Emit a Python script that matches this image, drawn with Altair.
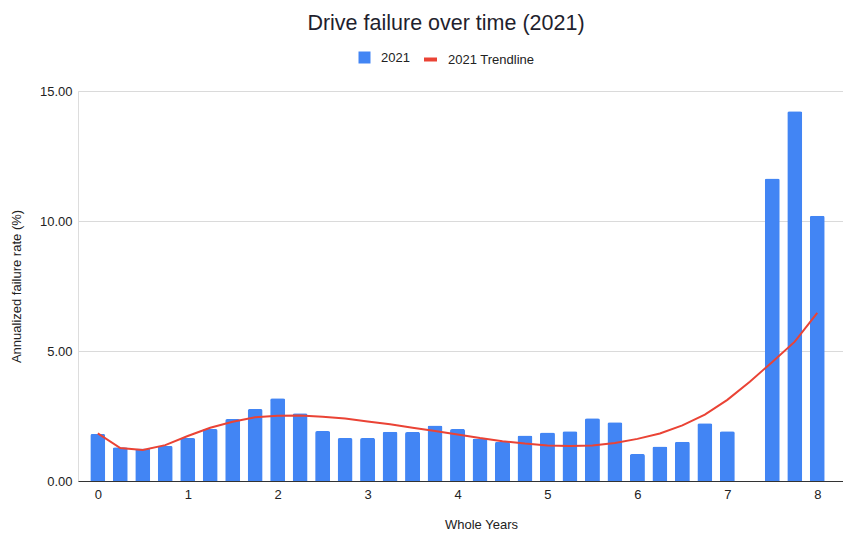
import altair as alt
import pandas as pd

years = [0, 0.25, 0.5, 0.75, 1, 1.25, 1.5, 1.75, 2, 2.25, 2.5, 2.75, 3, 3.25, 3.5, 3.75,
         4, 4.25, 4.5, 4.75, 5, 5.25, 5.5, 5.75, 6, 6.25, 6.5, 6.75, 7, 7.25, 7.5, 7.75, 8]
afr_2021 = [1.81, 1.30, 1.25, 1.35, 1.65, 2.00, 2.38, 2.77, 3.18, 2.61, 1.92, 1.65, 1.65, 1.89, 1.88, 2.13,
            2.00, 1.63, 1.51, 1.75, 1.87, 1.91, 2.41, 2.26, 1.04, 1.33, 1.51, 2.22, 1.91, None, 11.63, 14.22, 10.20]
trend_2021 = [1.83, 1.27, 1.19, 1.38, 1.73, 2.05, 2.28, 2.45, 2.51, 2.52, 2.47, 2.40, 2.29, 2.18, 2.05, 1.92,
              1.79, 1.65, 1.53, 1.44, 1.37, 1.35, 1.37, 1.46, 1.62, 1.83, 2.14, 2.55, 3.12, 3.82, 4.58, 5.36, 6.47]
x_ticks = [0, 1, 2, 3, 4, 5, 6, 7, 8]
y_ticks = [0, 5, 10, 15]

df = pd.DataFrame({"year": years, "afr": afr_2021, "trend": trend_2021})
df["series"] = "2021"
df["tseries"] = "2021 Trendline"

FONT = "Liberation Sans"
BLUE = "#4285f4"
RED = "#ea4335"

x_enc = alt.X(
    "year:Q",
    scale=alt.Scale(domain=[-0.1646, 8.2305], nice=False, zero=False),
    axis=alt.Axis(values=x_ticks, format="d", grid=False, ticks=False, domainColor="#333333",
                  labelPadding=7, labelFontSize=13, labelColor="#222222", labelFont=FONT,
                  title="Whole Years", titleFont=FONT, titleFontSize=13, titleFontWeight="normal",
                  titleColor="#222222", titleX=403, titleY=47, titleBaseline="alphabetic",
                  titleAlign="center", titleAnchor="start"),
)
y_scale = alt.Scale(domain=[0, 15], nice=False)
y_axis = alt.Axis(values=y_ticks, format=".2f", domain=False, ticks=False, gridColor="#dadada",
                  labelPadding=6, labelFontSize=13, labelColor="#222222", labelFont=FONT,
                  title="Annualized failure rate (%)", titleFont=FONT, titleFontSize=13,
                  titleFontWeight="normal", titleColor="#222222", titleX=-62,
                  titleBaseline="middle")

bars = alt.Chart(df).mark_bar(size=15, cornerRadiusTopLeft=2, cornerRadiusTopRight=2).encode(
    x=x_enc,
    y=alt.Y("afr:Q", scale=y_scale, axis=y_axis),
    fill=alt.Fill("series:N", scale=alt.Scale(domain=["2021"], range=[BLUE]),
                  legend=alt.Legend(title=None, orient="none", legendX=280, legendY=-40,
                                    symbolType="square", symbolSize=144, symbolStrokeWidth=0,
                                    labelFontSize=13, labelFont=FONT, labelColor="#222222",
                                    labelOffset=10, padding=0)),
)

line = alt.Chart(df).mark_line(strokeWidth=2).encode(
    x="year:Q",
    y="trend:Q",
    stroke=alt.Stroke("tseries:N", scale=alt.Scale(domain=["2021 Trendline"], range=[RED]),
                      legend=alt.Legend(title=None, orient="none", legendX=344, legendY=-40,
                                        symbolType="stroke", symbolSize=169, symbolStrokeWidth=4,
                                        labelFontSize=13, labelFont=FONT, labelColor="#222222",
                                        labelOffset=9, padding=0)),
)

chart = (bars + line).resolve_scale(fill="independent", stroke="independent").properties(
    width=765,
    height=390,
    title=alt.TitleParams("Drive failure over time (2021)", font=FONT, fontSize=21.5,
                          fontWeight="normal", color="#1f1f2e", anchor="middle", dx=-14.5,
                          offset=0, baseline="alphabetic"),
    autosize=alt.AutoSizeParams(type="none"),
    padding={"left": 70, "top": 83, "right": 0, "bottom": 50},
).configure_view(stroke=None).configure(background="white")

chart.save("out.html", embed_options={"renderer": "svg", "actions": False})
